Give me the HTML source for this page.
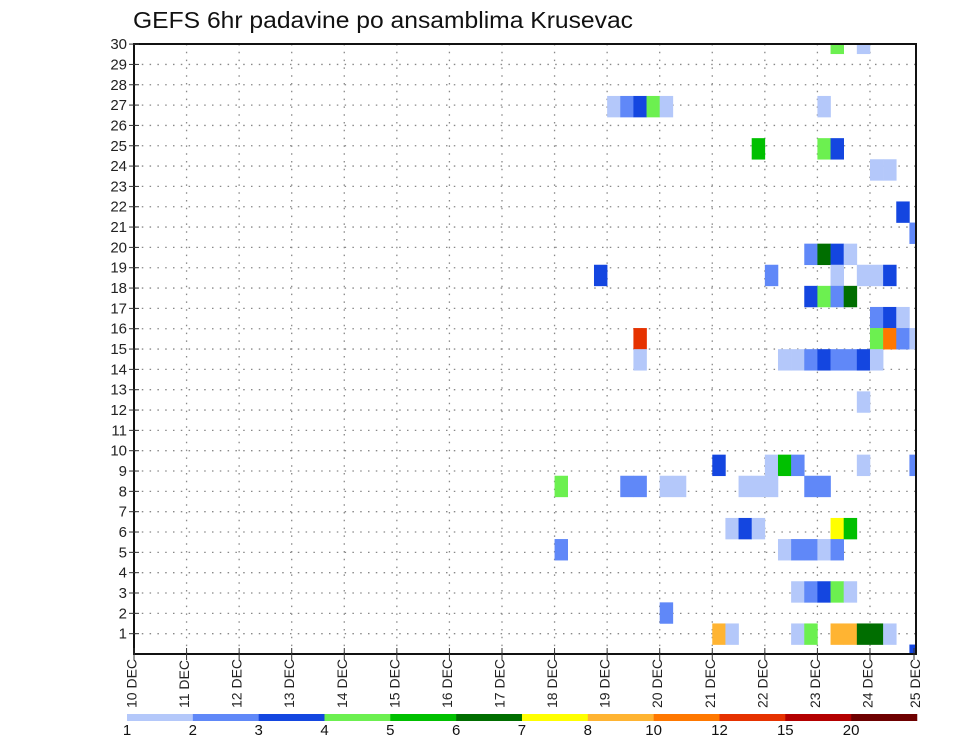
<!DOCTYPE html>
<html><head><meta charset="utf-8"><style>
html,body{margin:0;padding:0;background:#fff;}
svg{display:block;font-family:"Liberation Sans",sans-serif;}
</style></head><body>
<svg id="chart" width="960" height="742" viewBox="0 0 960 742" xmlns="http://www.w3.org/2000/svg">
<text x="133" y="28" font-size="23" fill="#111" textLength="500" lengthAdjust="spacingAndGlyphs">GEFS 6hr padavine po ansamblima Krusevac</text>
<defs><clipPath id="plotclip"><rect x="134" y="44" width="782" height="610"/></clipPath></defs>
<g id="grid"></g>
<g id="cells" clip-path="url(#plotclip)"></g>
<rect x="134" y="44" width="782" height="610" fill="none" stroke="#111" stroke-width="2"/>
<g id="axes"></g>
<g id="colorbar"></g>
</svg>
<script>
const dayLabels = ["10 DEC","11 DEC","12 DEC","13 DEC","14 DEC","15 DEC","16 DEC","17 DEC","18 DEC","19 DEC","20 DEC","21 DEC","22 DEC","23 DEC","24 DEC","25 DEC"];
const memberLabels = [1,2,3,4,5,6,7,8,9,10,11,12,13,14,15,16,17,18,19,20,21,22,23,24,25,26,27,28,29,30];
const levelLabels = ["1","2","3","4","5","6","7","8","10","12","15","20"];
const levelColors = ["#b4c8fa","#6088f8","#1446e0","#6cf050","#00c000","#006e00","#ffff00","#ffb432","#ff7800","#e63200","#b40000","#6e0000"];
// cells: member row, 6-hour step index from 10 DEC 00Z, precip category
const cellRow = [29,29, 26,26,26,26,26,26, 24,24,24, 23,23, 21, 20, 19,19,19,19, 18,18,18,18,18,18, 17,17,17,17, 16,16,16, 15,15,15,15,15, 14,14,14,14,14,14,14,14,14, 12, 9,9,9,9,9,9, 8,8,8,8,8,8,8,8,8,8, 6,6,6,6,6, 5,5,5,5,5,5, 3,3,3,3,3, 2, 1,1,1,1,1,1,1,1,1, 0];
const cellStep = [53,55, 36,37,38,39,40,52, 47,52,53, 56,57, 58, 59, 51,52,53,54, 35,48,53,55,56,57, 51,52,53,54, 56,57,58, 38,56,57,58,59, 38,49,50,51,52,53,54,55,56, 55, 44,48,49,50,55,59, 32,37,38,40,41,46,47,48,51,52, 45,46,47,53,54, 32,49,50,51,52,53, 50,51,52,53,54, 40, 44,45,50,51,53,54,55,56,57, 59];
const cellCat = [3,0, 0,1,2,3,0,0, 4,3,2, 0,0, 2, 1, 1,5,2,0, 2,1,0,0,0,2, 2,3,1,5, 1,2,0, 9,3,8,1,0, 0,0,0,1,2,1,1,2,0, 0, 2,0,4,1,0,1, 3,1,1,0,0,0,0,0,1,1, 0,2,0,6,4, 1,0,1,1,0,1, 0,1,2,3,0, 1, 7,0,0,3,7,7,5,5,0, 2];

const NS="http://www.w3.org/2000/svg";
const PL=134, PR=916, PT=44, PB=654;
const dayW=52.57, stepW=dayW/4, rowH=21.1;
function xDay(d){return PL+d*dayW;}
function xStep(s){return PL+s*stepW;}
function yLab(m){return PB-m*20.33;}
function yCell(n){return 634-(n-1)*rowH;}
function mk(tag,attrs,parent){const e=document.createElementNS(NS,tag);for(const k in attrs)e.setAttribute(k,attrs[k]);parent.appendChild(e);return e;}

const grid=document.getElementById('grid');
memberLabels.forEach(m=>{
  if(m===30) return;
  const l=mk('line',{x1:PL,x2:PR,y1:yLab(m),y2:yLab(m),stroke:'#888','stroke-width':1.3,'stroke-dasharray':'1.5 6.3'},grid);
  
  
});
dayLabels.forEach((d,i)=>{
  if(i===0) return;
  const x=xDay(i); if(x>PR) return;
  const l=mk('line',{x1:x,x2:x,y1:PT,y2:PB,stroke:'#888','stroke-width':1.3,'stroke-dasharray':'1.5 6.3'},grid);
  
  
});

const cells=document.getElementById('cells');
for(let i=0;i<cellRow.length;i++){
  const yc=yCell(cellRow[i]);
  const r=mk('rect',{x:xStep(cellStep[i]),y:yc-rowH/2,width:stepW+0.3,height:rowH+0.3,fill:levelColors[cellCat[i]]},cells);
  
  
}

const axes=document.getElementById('axes');
memberLabels.forEach(m=>{
  const y=yLab(m);
  const t=mk('line',{x1:PL-5,x2:PL+5,y1:y,y2:y,stroke:'#333','stroke-width':1},axes);
  
  
  const tx=mk('text',{x:PL-7,y:y+5,'font-size':15,'text-anchor':'end',fill:'#222'},axes);
  tx.textContent=m;
  
  
});
dayLabels.forEach((d,i)=>{
  const x=Math.min(xDay(i),PR-2);
  const t=mk('line',{x1:x,x2:x,y1:PB-6,y2:PB+6,stroke:'#333','stroke-width':1},axes);
  
  
  const lx=xDay(i)+2.5;
  const tx=mk('text',{x:0,y:0,'font-size':14,fill:'#222',transform:'translate('+Math.min(lx,920)+',708) rotate(-90)'},axes);
  tx.textContent=d;
  
  
});

const cb=document.getElementById('colorbar');
const cbX=127, cbW=65.83;
levelColors.forEach((c,i)=>{
  const r=mk('rect',{x:cbX+i*cbW,y:714,width:cbW+0.3,height:7,fill:c},cb);
  
  
});
levelLabels.forEach((s,i)=>{
  const t=mk('text',{x:cbX+i*cbW,y:735,'font-size':15,'text-anchor':'middle',fill:'#111'},cb);
  t.textContent=s;
  
  
});
</script>
</body></html>
